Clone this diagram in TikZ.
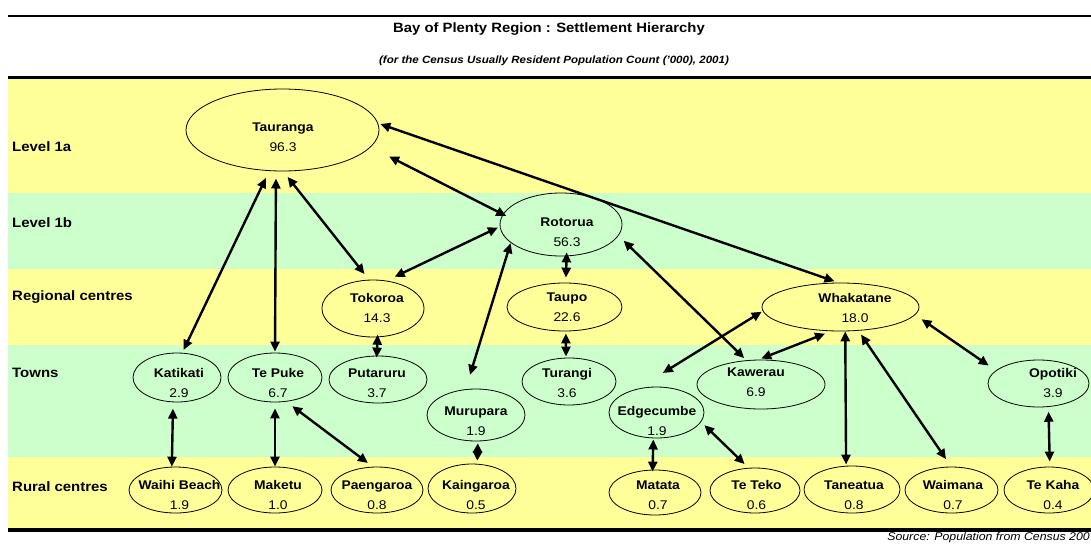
\documentclass[tikz,border=0pt]{standalone}
\usepackage{fontspec}
\setmainfont[FakeStretch=1.1]{Liberation Sans}
\usetikzlibrary{shapes.geometric}
\usetikzlibrary{arrows.meta}
\definecolor{bandyellow}{HTML}{FFFF99}
\definecolor{bandgreen}{HTML}{CCFFCC}
\tikzset{
    place/.style = {ellipse, draw=black, line width=0.8pt, inner sep=0pt},
    placetext/.style = {align=center, inner sep=0pt, font=\fontsize{12.6}{20}\selectfont},
    level/.style = {anchor=west, inner sep=0pt, font=\fontsize{13.6}{16}\selectfont\bfseries},
    link/.style = {{Triangle[length=10pt,width=9pt]}-{Triangle[length=10pt,width=9pt]}, line width=2.4pt},
    shortlink/.style = {{Triangle[length=9pt,width=9pt]}-{Triangle[length=9pt,width=9pt]}, line width=2.4pt},
    rule/.style = {line width=2.7pt}
}
\begin{document}
\begin{tikzpicture}[x=1pt,y=-1pt]
\useasboundingbox (0,0) rectangle (1091,543);
%
% bands
\fill[bandyellow] (7.5,79) rectangle (1091,193);
\fill[bandgreen] (7.5,193) rectangle (1091,269);
\fill[bandyellow] (7.5,269) rectangle (1091,345);
\fill[bandgreen] (7.5,345) rectangle (1091,457);
\fill[bandyellow] (7.5,457) rectangle (1091,529);
\draw[rule] (8,16) -- (1091,16);
\draw[rule] (8,77.5) -- (1091,77.5);
\draw[rule,line width=3.5pt] (8,530) -- (1091,530);
%
\node[font=\fontsize{13.5}{16}\selectfont\bfseries] at (549,29) (title) {Bay of Plenty Region : Settlement Hierarchy};
\node[font=\fontsize{10.5}{13}\selectfont\bfseries\itshape] at (554,61) (subtitle) {(for the Census Usually Resident Population Count ('000), 2001)};
\node[anchor=east, inner sep=0pt, font=\fontsize{11.2}{13}\selectfont\itshape] at (1090,538) (source) {Source: Population from Census 200};
%
\node[level] at (12,147) (l1a) {Level 1a};
\node[level] at (12,223) (l1b) {Level 1b};
\node[level] at (12,297) (lreg) {Regional centres};
\node[level] at (12,373) (ltown) {Towns};
\node[level] at (12,487) (lrural) {Rural centres};
%
\node[place, minimum width=193, minimum height=82, label={[placetext,xshift=0.5,yshift=-7.5]center:{\textbf{Tauranga}\\96.3}}] at (282.5,130) (tauranga) {};
\node[place, minimum width=122, minimum height=63, label={[placetext,xshift=6,yshift=-8]center:{\textbf{Rotorua}\\56.3}}] at (561,224.5) (rotorua) {};
\node[place, minimum width=102, minimum height=57, label={[placetext,xshift=4,yshift=1]center:{\textbf{Tokoroa}\\14.3}}] at (373,308.5) (tokoroa) {};
\node[place, minimum width=115, minimum height=48, label={[placetext,xshift=2.5,yshift=-0.5]center:{\textbf{Taupo}\\22.6}}] at (564.5,307) (taupo) {};
\node[place, minimum width=157, minimum height=48, label={[placetext,xshift=14.5,yshift=-0.5]center:{\textbf{Whakatane}\\18.0}}] at (840.5,307) (whakatane) {};
%
\node[place, minimum width=88, minimum height=49, label={[placetext,xshift=2,yshift=-5.5]center:{\textbf{Katikati}\\2.9}}] at (177,377.5) (katikati) {};
\node[place, minimum width=94, minimum height=49, label={[placetext,xshift=3,yshift=-5.5]center:{\textbf{Te Puke}\\6.7}}] at (275,377.5) (tepuke) {};
\node[place, minimum width=98, minimum height=47, label={[placetext,xshift=-1,yshift=-3.5]center:{\textbf{Putaruru}\\3.7}}] at (378,379.5) (putaruru) {};
\node[place, minimum width=98, minimum height=52, label={[placetext,yshift=-6]center:{\textbf{Murupara}\\1.9}}] at (476,415) (murupara) {};
\node[place, minimum width=94, minimum height=47, label={[placetext,xshift=-2,yshift=-1]center:{\textbf{Turangi}\\3.6}}] at (569,381.5) (turangi) {};
\node[place, minimum width=95, minimum height=51, label={[placetext,xshift=0.5,yshift=-8.5]center:{\textbf{Edgecumbe}\\1.9}}] at (656.5,412.5) (edgecumbe) {};
\node[place, minimum width=128, minimum height=49, label={[placetext,xshift=-5,yshift=2]center:{\textbf{Kawerau}\\6.9}}] at (761,384.5) (kawerau) {};
\node[place, minimum width=101, minimum height=47, label={[placetext,xshift=14.5,yshift=1]center:{\textbf{Opotiki}\\3.9}}] at (1038.5,383.5) (opotiki) {};
%
\node[place, minimum width=93, minimum height=46, label={[placetext,xshift=4,yshift=-5]center:{\textbf{Waihi Beach}\\1.9}}] at (175.5,490) (waihibeach) {};
\node[place, minimum width=94, minimum height=46, label={[placetext,xshift=3,yshift=-5]center:{\textbf{Maketu}\\1.0}}] at (275,490) (maketu) {};
\node[place, minimum width=92, minimum height=46, label={[placetext,yshift=-5]center:{\textbf{Paengaroa}\\0.8}}] at (377,490) (paengaroa) {};
\node[place, minimum width=88, minimum height=49, label={[placetext,xshift=4,yshift=-6.5]center:{\textbf{Kaingaroa}\\0.5}}] at (472,488.5) (kaingaroa) {};
\node[place, minimum width=92, minimum height=45, label={[placetext,xshift=3,yshift=-2.5]center:{\textbf{Matata}\\0.7}}] at (655,492.5) (matata) {};
\node[place, minimum width=90, minimum height=45, label={[placetext,xshift=1.5,yshift=-4.5]center:{\textbf{Te Teko}\\0.6}}] at (755,490.5) (teteko) {};
\node[place, minimum width=96, minimum height=47, label={[placetext,xshift=2,yshift=-5.5]center:{\textbf{Taneatua}\\0.8}}] at (852,489.5) (taneatua) {};
\node[place, minimum width=93, minimum height=46, label={[placetext,xshift=1.5,yshift=-5]center:{\textbf{Waimana}\\0.7}}] at (951.5,490) (waimana) {};
\node[place, minimum width=90, minimum height=46, label={[placetext,xshift=4,yshift=-5]center:{\textbf{Te Kaha}\\0.4}}] at (1049,490) (tekaha) {};
%
\draw[link, shorten <=7.7pt, shorten >=3.2pt] (tauranga.-108) -- (katikati.78);
\draw[link, shorten <=7.2pt, shorten >=1pt] (tauranga.-99) -- (tepuke.90);
\draw[link, shorten <=7pt, shorten >=7.2pt] (tauranga.-89) -- (tokoroa.98);
\draw[link, shorten <=20.6pt, shorten >=-3.8pt] (tauranga.-11) -- (rotorua.170);
\draw[link, shorten <=2.3pt, shorten >=4.1pt] (tauranga.4) -- (whakatane.95);
\draw[link, shorten <=2pt, shorten >=8.9pt] (rotorua.-178) -- (tokoroa.64);
\draw[link, shorten <=-3.9pt, shorten >=5pt] (rotorua.-80) -- (taupo.87);
\draw[link, shorten <=0.4pt, shorten >=15pt] (rotorua.-160) -- (murupara.112);
\draw[link, shorten <=7.1pt, shorten >=3.1pt] (rotorua.-11) -- (kawerau.121);
\draw[link, shorten <=-2.6pt, shorten >=-2pt] (tokoroa.-81) -- (putaruru.93);
\draw[link, shorten <=2pt, shorten >=1.1pt] (taupo.-87) -- (turangi.97);
\draw[link, shorten <=1.2pt, shorten >=30pt] (whakatane.-177) -- (edgecumbe.129);
\draw[link, shorten <=6.6pt, shorten >=3.1pt] (whakatane.-111) -- (kawerau.96);
\draw[link, shorten >=1.2pt] (whakatane.-79) -- (taneatua.104);
\draw[link, shorten <=4.6pt, shorten >=9pt] (whakatane.-53) -- (waimana.91);
\draw[link, shorten <=7.7pt, shorten >=8.6pt] (whakatane.-6) -- (opotiki.163);
\draw[link, shorten <=6.3pt] (katikati.-99) -- (waihibeach.99);
\draw[link, shorten <=6pt] (tepuke.-90) -- (maketu.90);
\draw[link, shorten <=7.4pt, shorten >=6.2pt] (tepuke.-65) -- (paengaroa.100);
\draw[shortlink, shorten <=2pt, shorten >=3.2pt] (murupara.-86) -- (kaingaroa.78);
\draw[link, shorten <=1.1pt, shorten >=-2pt] (edgecumbe.-97) -- (matata.96);
\draw[link, shorten <=4.5pt, shorten >=5.4pt] (edgecumbe.-12) -- (teteko.106);
\draw[link, shorten <=4.8pt, shorten >=5pt] (opotiki.-67) -- (tekaha.88);
\end{tikzpicture}
\end{document}
